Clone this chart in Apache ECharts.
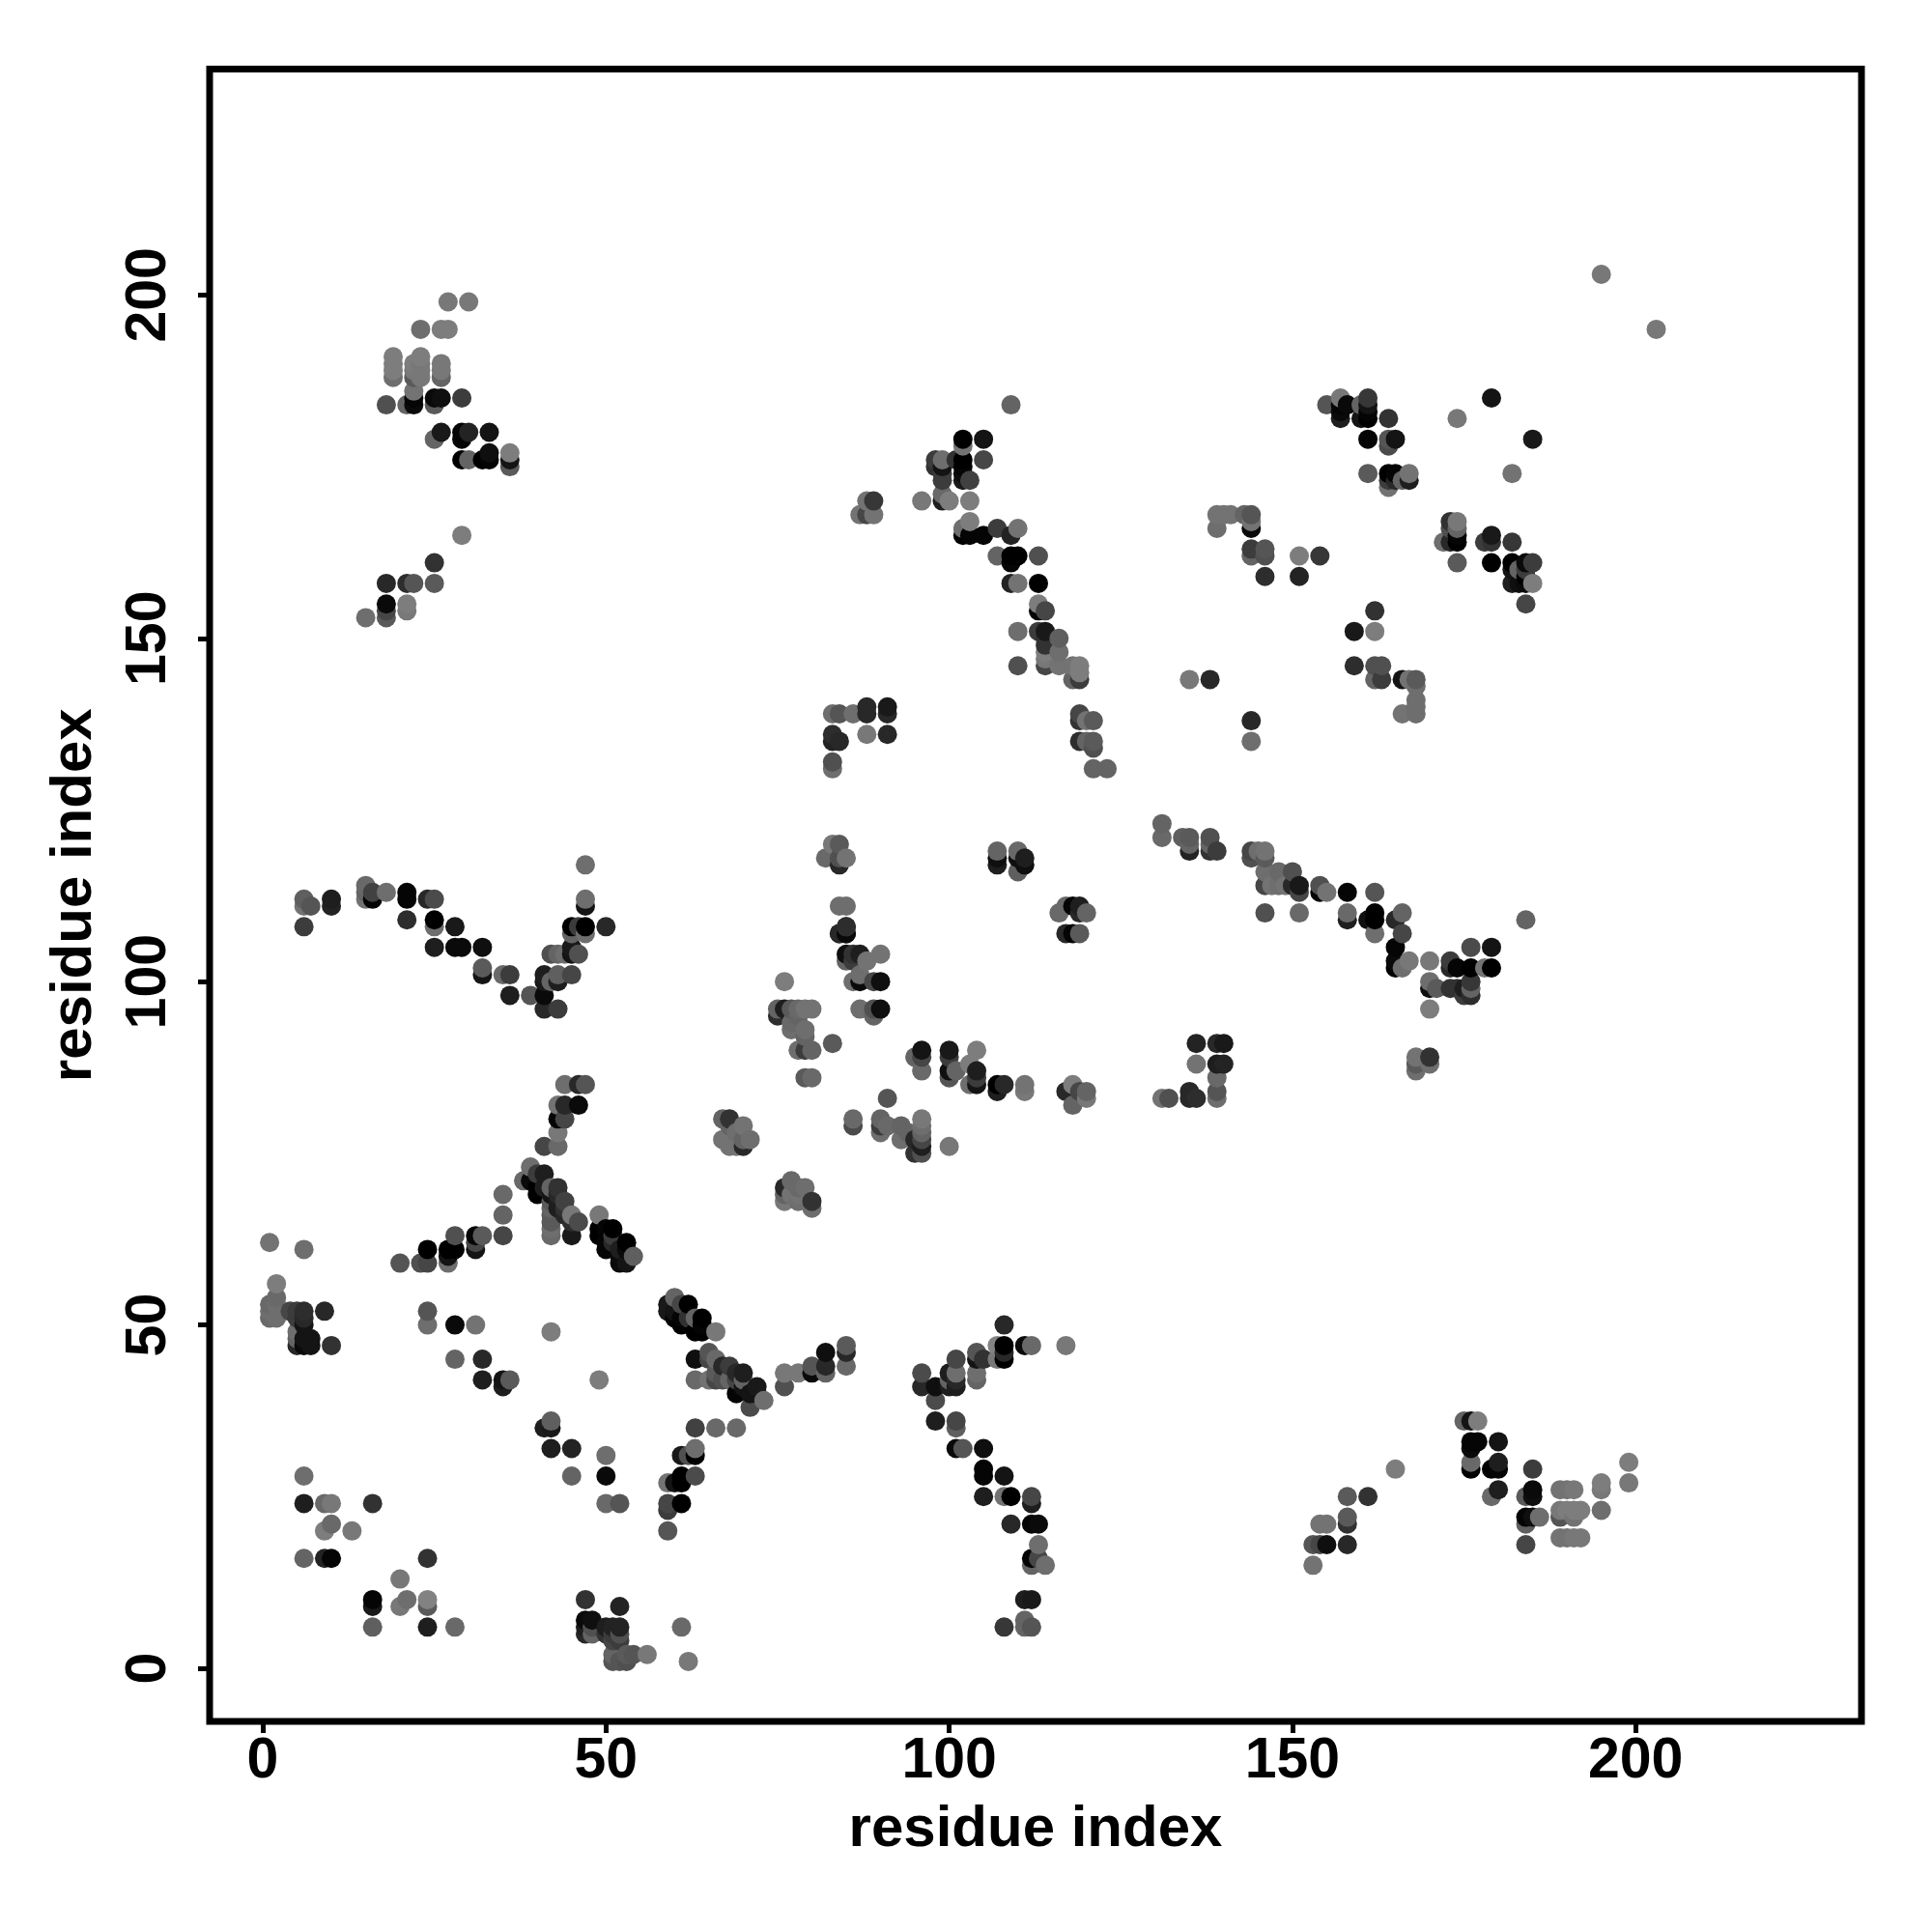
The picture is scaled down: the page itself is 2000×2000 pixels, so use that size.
<!DOCTYPE html>
<html><head><meta charset="utf-8">
<style>html,body{margin:0;padding:0;background:#fff}#c{width:2000px;height:2000px}</style>
<script src="https://cdn.jsdelivr.net/npm/echarts@6/dist/echarts.min.js"></script>
</head><body><div id="c"></div>
<script>
// each contact: [residue i, residue j, grey level of the point]
const tickValues = [0, 50, 100, 150, 200];
const xTitle = 'residue index';
const yTitle = 'residue index';

const contactsA = [[1,62,115],[6,61,110],[2,56,125],[1,53,105],[1,51,105],[2,54,105],[2,51,110],[1,52,110],[2,53,110],[4,52,70],[5,52,60],[6,52,45],[6,51,40],[6,50,20],[5,51,60],[5,47,40],[5,48,100],[5,49,110],[7,48,20],[7,47,20],[6,47,10],[6,48,20],[9,52,40],[10,47,50],
[24,52,85],[24,50,110],[28,50,10],[31,50,115],[42,49,125],[28,45,100],[32,45,40],[32,42,30],[35,42,20],[35,41,30],[36,42,90],[49,42,125],
[42,36,95],[41,35,30],[42,35,25],[42,32,30],[45,32,35],[50,31,110],[45,28,100],[50,28,10],[50,24,105],[52,24,85]];
const contactsB = [[63,35,65],[66,35,105],[63,32,110],[63,31,0],[62,31,80],[61,31,25],[63,28,75],[61,28,0],[61,27,0],[60,27,20],[59,27,115],[61,24,0],[59,24,70],[59,23,60],[59,20,85],
[6,28,110],[6,24,30],[9,24,105],[10,24,120],[16,24,50],[10,21,105],[9,20,125],[13,20,120],[6,16,100],[9,16,35],[10,16,5],[24,16,50],[20,13,120],[16,10,5],[16,9,25],[21,10,110],[20,9,120],[24,10,130],[24,9,90],[16,6,95],[24,6,30],[28,6,105]];
const contactsC = [[47,10,50],[52,9,35],[47,7,10],[48,7,15],[47,6,30],[48,6,80],[48,5,100],[50,6,30],[51,6,35],[52,6,35],[51,5,60],[52,5,80],[47,5,40],[50,5,50],[51,4,70],[52,4,60],[51,2,100],[53,2,90],[54,2,85],[56,2,120],[51,1,85],[52,1,85],[53,1,80],[62,1,120],[61,6,105],
[20,59,85],[23,59,80],[24,59,70],[24,61,0],[27,59,110],[27,60,20],[27,61,0],[28,61,0],[28,63,80],[31,61,20],[31,62,70],[31,63,5],[32,63,90],[35,63,70],[35,66,100],[35,69,105],[38,71,105],[39,73,110],[40,72,60],[41,72,30],[39,71,10],[40,70,0],[40,69,0],[41,70,30],[42,70,100],[43,70,50],[42,69,20],[43,69,40],[42,68,90],[44,68,65],[43,68,30],[42,67,100],[43,67,30],[45,66,120],[44,67,50],[42,66,90],[46,65,75],[42,65,90],[44,66,40],[42,64,110],[45,65,45],[42,63,105],[45,63,25],[49,66,120]];
const contactsD = [[49,64,0],[49,63,0],[50,64,5],[51,64,0],[50,62,5],[50,61,5],[51,63,60],[51,62,40],[53,62,0],[52,61,30],[53,61,10],[54,60,95],[52,59,10],[53,59,20],[52,60,10],
[60,54,100],[59,53,25],[59,52,25],[61,53,70],[62,53,0],[60,52,20],[60,51,5],[61,51,5],[61,50,0],[63,51,100],[64,51,0],[62,51,50],[63,49,0],[64,49,0],[64,50,5],[66,49,120],
[63,45,15],[65,46,85],[65,45,70],[66,45,105],[63,42,105],[65,42,115],[66,43,90],[66,42,70],[67,44,40],[67,42,80],[68,44,60],[68,42,100],[69,43,40],[70,43,30],[69,42,70],[69,40,5],[70,42,100],[70,41,20],[72,41,25],[71,40,20],[71,38,75],[73,39,110],[72,40,20],[69,35,105],
[76,43,120],[76,41,80],[78,43,120],[80,44,85],[80,43,10],[82,46,15],[82,44,40],[82,43,100],[85,47,90],[85,46,40],[85,44,105]];
const contactsE = [[96,43,75],[96,41,40],[98,41,15],[98,39,75],[98,36,30],[101,45,70],[100,43,30],[101,43,110],[100,42,100],[101,42,40],[100,41,30],[101,41,30],[104,46,85],[104,45,20],[105,45,50],[104,43,110],[104,42,100],[107,47,130],[107,45,120],[108,50,40],[108,47,0],[108,46,40],[108,45,0],[111,47,10],[112,47,105],[117,47,120],
[101,36,70],[101,35,95],[101,32,10],[102,32,85],[105,32,15],[105,29,5],[105,28,5],[108,28,20],[105,25,30],[108,25,115],[109,25,0],[112,25,70],[112,24,30],[109,21,40],[112,21,5],[113,21,10],[113,18,110],[112,16,5],[113,16,70],[112,15,100],[114,15,110],[111,10,30],[112,10,25],[108,6,55],[111,7,100],[111,6,100],[112,6,85]];
const contactsF = [[6,111,115],[7,111,85],[6,112,95],[6,108,60],[10,112,30],[10,111,35],[15,114,105],[15,112,115],[15,113,100],[16,113,65],[16,112,5],[18,113,110],[21,113,5],[21,112,5],[24,112,40],[25,112,75],[21,109,45],[25,109,0],[25,108,110],[28,108,25],[25,105,30],[28,105,10],[29,105,10],[32,105,15],[32,102,90],[32,101,20],[35,101,105],[36,101,60],[36,98,30],[39,98,85],[41,98,10],[41,96,40],[43,96,60],
[41,101,30],[41,100,25],[43,101,95],[43,100,30],[42,100,100],[45,101,70],[42,104,80],[43,104,100],[44,104,110],[45,105,25],[45,104,20],[46,104,80],[45,108,0],[45,107,100],[46,108,60],[47,108,0],[47,107,110],[47,111,20],[47,112,110],[47,117,110],[50,108,40],
[44,85,110],[46,85,40],[47,85,85],[43,82,115],[44,82,40],[46,82,10],[43,80,5],[44,80,70],[43,78,120],[41,76,70],[43,76,105]];
const contactsG = [[76,100,125],[75,96,100],[75,95,45],[76,96,30],[77,96,90],[78,96,105],[79,96,115],[80,96,115],[78,95,100],[77,94,105],[78,94,105],[79,93,110],[77,93,110],[79,92,100],[78,90,110],[79,90,60],[80,90,100],[83,91,90],[79,86,90],[80,86,105],
[91,83,85],[86,80,105],[86,79,75],[90,80,100],[90,79,60],[90,78,110],[91,79,105],[93,79,100],[93,77,110],[94,78,100],[95,77,40],[95,75,50],[96,80,120],[96,79,110],[96,78,100],[96,77,70],[96,76,30],[96,75,80],[100,76,120],
[86,100,110],[87,101,110],[87,100,10],[89,100,70],[90,100,15],[87,96,110],[89,96,80],[89,95,100],[90,96,15],[85,104,15],[85,103,100],[86,104,50],[87,104,30],[86,103,60],[88,103,115],[90,104,115],[84,107,40],[85,108,50],[85,107,10],
[83,139,110],[84,139,85],[86,139,110],[88,140,40],[88,139,40],[91,140,25],[91,139,40],[83,136,45],[83,135,35],[84,135,40],[88,136,120],[91,136,40],[83,132,80],[83,131,110],
[83,120,120],[84,120,90],[82,118,105],[84,118,80],[85,118,115],[84,117,40],[107,119,100],[107,118,15],[107,117,30],[110,119,105],[110,116,95],[110,118,15],[111,118,30],[111,117,15],[84,111,110],[85,111,110],[85,108,45],[84,107,40],[85,107,10],[117,111,105],[118,111,5],[119,111,30],[116,110,105],[119,110,40],[120,110,100],[117,107,40],[118,107,5],[119,107,90]];
const contactsH = [[131,123,100],[131,121,105],[134,121,95],[135,121,90],[135,120,100],[135,119,35],[138,121,80],[138,120,100],[138,119,50],[139,119,60],[144,119,70],[144,118,80],[145,119,110],[146,119,115],[146,118,90],[146,116,110],[148,116,105],[150,116,80],[146,114,70],[147,114,115],[148,114,110],[149,114,115],[150,114,40],[151,114,25],[151,113,70],[154,114,80],[154,113,5],[155,113,115],[158,113,5],[162,113,85],[146,110,80],[151,110,105],[158,110,105],[158,109,30],[161,109,15],[162,110,0],[162,109,0],[162,107,110],[165,109,40],[166,110,100],[166,107,70],[165,105,5],[165,103,10],[165,102,0],[166,102,110],[167,103,120],
[136,91,35],[139,91,40],[140,91,25],[136,88,115],[139,88,30],[140,88,35],[139,86,105],[139,84,85],[139,83,110],[131,83,115],[132,83,80],[135,84,40],[135,83,40],[136,83,45],
[170,103,120],[173,103,60],[173,102,40],[174,102,5],[176,105,75],[176,102,0],[178,102,115],[179,105,20],[179,102,0],[184,109,100],[170,100,110],[170,99,15],[171,99,90],[173,99,50],[174,99,50],[175,99,30],[175,98,60],[176,100,55],[176,99,100],[176,98,45],[170,96,125],[168,89,115],[170,89,50],[168,88,90],[170,88,110],[168,87,110]];
const contactsI = [[96,90,20],[95,89,100],[96,89,70],[96,87,105],[100,90,25],[100,89,60],[100,87,15],[100,86,85],[101,87,100],[104,90,125],[103,88,125],[103,85,110],[104,87,30],[104,86,60],[104,85,20],[107,85,0],[107,84,30],[108,85,40],[111,85,115],[111,84,120],[117,84,40],[118,85,125],[118,82,100],[119,84,70],[120,84,100],[120,83,120],
[68,80,50],[70,79,115],[68,79,100],[71,77,110],[70,76,40],[68,76,115],[67,77,115],[69,78,110],[70,77,100],[69,76,115],[67,80,100],
[76,68,120],[76,69,100],[78,68,110],[80,68,50],[80,67,110],[77,71,105],[76,70,40],[79,70,110],[78,70,105],[77,69,115],[78,69,115]];
const contactsJ = [[153,15,115],[153,18,85],[154,18,70],[155,18,15],[154,21,115],[155,21,115],[158,18,40],[158,21,50],[158,22,90],[158,25,90],[161,25,50],[165,29,125],[175,36,100],[176,36,20],[177,36,125],[176,33,5],[177,33,5],[176,32,10],[176,30,105],[176,29,0],[180,33,20],[179,29,0],[180,30,30],[180,29,5],[180,26,30],[179,25,105],
[185,29,60],[184,25,90],[185,26,10],[185,25,15],[184,22,5],[184,21,95],[185,22,15],[186,22,110],[184,18,70],[189,26,115],[190,26,115],[191,26,120],[189,23,120],[190,23,125],[191,23,125],[192,23,125],[189,22,85],[191,22,115],[189,19,115],[190,19,115],[191,19,120],[192,19,120],[195,27,125],[195,26,120],[195,23,110],[199,30,125],[199,27,120],[195,203,120],[203,195,120]];
const contactsK = [[27,199,120],[30,199,120],[23,195,110],[26,195,125],[27,195,125],[19,191,125],[19,190,125],[19,189,125],[19,188,110],[22,190,125],[23,191,125],[23,190,120],[23,189,120],[23,188,120],[22,188,90],[22,189,120],[26,190,120],[26,189,120],[26,188,100],[22,186,115],[22,185,5],[18,184,80],[21,184,100],[22,184,10],[25,185,10],[26,185,15],[25,184,90],[29,185,60],[26,180,25],[25,179,100],[29,180,5],[29,179,5],[30,180,35],[33,180,20],[29,176,0],[30,176,100],[32,176,0],[33,177,15],[33,176,5],[36,177,125],[36,176,20],[36,175,90],[29,165,125],[25,161,50],[18,158,40],[21,158,45],[22,158,85],[25,158,90],[18,155,10],[18,154,70],[18,153,90],[21,155,125],[21,154,120],[15,153,110]];
const contactsL = [[109,184,100],[102,179,0],[105,179,20],[102,178,115],[105,176,70],[98,176,60],[99,176,110],[98,175,50],[99,175,20],[99,174,60],[99,173,60],[101,176,50],[102,176,0],[102,175,5],[102,174,10],[102,173,25],[103,173,65],[99,171,105],[96,170,120],[99,170,30],[100,170,125],[103,170,125],[88,170,115],[89,170,55],[87,168,115],[88,168,70],[89,168,115],
[102,166,110],[103,167,125],[102,165,0],[103,165,5],[105,165,5],[107,166,60],[109,165,35],[110,166,115],[107,162,100],[109,162,0],[110,162,0],[109,161,5],[113,162,80],[109,158,35],[110,158,115],[113,158,0],[113,155,125],[113,154,5],[114,154,70],[110,151,110],[113,151,60],[114,151,25],[114,150,50],[116,150,95],[114,149,50],[116,148,110],[114,148,125],[114,147,120],[114,146,70],[116,146,115],[110,146,80],[118,146,115],[119,146,125],[119,145,125],[118,144,100],[119,144,60],[119,139,70],[119,138,50],[120,138,115],[121,138,90],[119,135,45],[120,135,100],[121,135,90],[121,134,80],[121,131,100],[123,131,100]];
const contactsM = [[155,184,85],[157,185,120],[157,184,5],[157,183,10],[157,182,30],[158,184,10],[160,184,100],[160,182,20],[161,185,55],[161,184,20],[161,183,5],[161,182,0],[164,182,50],[161,179,5],[164,179,85],[164,178,75],[165,179,20],[161,174,90],[164,174,0],[165,174,5],[164,173,60],[164,172,115],[165,173,40],[166,173,100],[167,174,115],[167,173,30],[174,182,120],[179,185,20],[185,179,25],[182,174,115],
[139,168,115],[139,166,110],[140,168,115],[141,168,115],[143,168,100],[144,168,85],[144,167,115],[144,166,10],[144,163,60],[144,162,100],[146,163,85],[146,162,80],[146,159,45],[151,162,125],[154,162,55],[151,159,35],[159,151,25],[162,151,125],[162,154,50],[159,146,45],[162,146,80],[163,146,80],[162,144,100],[163,144,60],[166,144,20],[167,144,115],[168,144,90],[168,143,110],[168,141,110],[168,140,110],[168,139,110],[166,139,115],[135,144,120],[138,144,40],[144,138,40],[144,135,110],
[173,167,50],[174,167,120],[172,164,110],[173,164,40],[174,165,5],[174,164,0],[173,166,80],[174,166,100],[174,161,90],[178,164,60],[179,165,25],[179,164,50],[182,164,55],[179,161,0],[182,161,0],[182,160,20],[183,160,100],[184,161,10],[185,161,60],[184,160,60],[182,158,30],[183,158,15],[184,158,10],[184,159,0],[185,158,125],[184,155,70]];

// the original paints by residue i, then residue j
const contacts = [].concat(contactsA, contactsB, contactsC, contactsD, contactsE, contactsF, contactsG, contactsH, contactsI, contactsJ, contactsK, contactsL, contactsM)
  .sort((a, b) => a[0] - b[0] || a[1] - b[1]);

const font = 'Liberation Sans';
function axis(name, rotate, gap, margin) {
  return {
    type: 'value', min: -7.74, max: 232.9, name: name, nameLocation: 'middle', nameGap: gap,
    nameRotate: rotate, nameTextStyle: {fontFamily: font, fontWeight: 'bold', fontSize: 60, color: '#000'},
    splitLine: {show: false}, axisLine: {show: false, onZero: false},
    axisTick: {show: true, length: 12, lineStyle: {color: '#000', width: 5}, customValues: tickValues},
    axisLabel: {show: true, rotate: rotate, margin: margin, fontFamily: font, fontWeight: 'bold', fontSize: 59, color: '#000', customValues: tickValues, showMinLabel: true, showMaxLabel: true, hideOverlap: false}
  };
}
const chart = echarts.init(document.getElementById('c'), null, {renderer: 'canvas'});
chart.setOption({
  animation: false, backgroundColor: '#fff',
  grid: {show: true, left: 217, top: 71.5, width: 1710, height: 1710.5, borderColor: '#000', borderWidth: 7, backgroundColor: 'transparent', containLabel: false},
  xAxis: axis(xTitle, 0, 82, 12),
  yAxis: axis(yTitle, 90, 110, 33),
  series: [{
    type: 'scatter', data: contacts, symbol: 'circle', symbolSize: 20, large: false, progressive: 0,
    itemStyle: {opacity: 1, color: p => { const g = p.value[2]; return 'rgb(' + g + ',' + g + ',' + g + ')'; }},
    emphasis: {disabled: true}, silent: true, clip: true
  }]
});
</script></body></html>
